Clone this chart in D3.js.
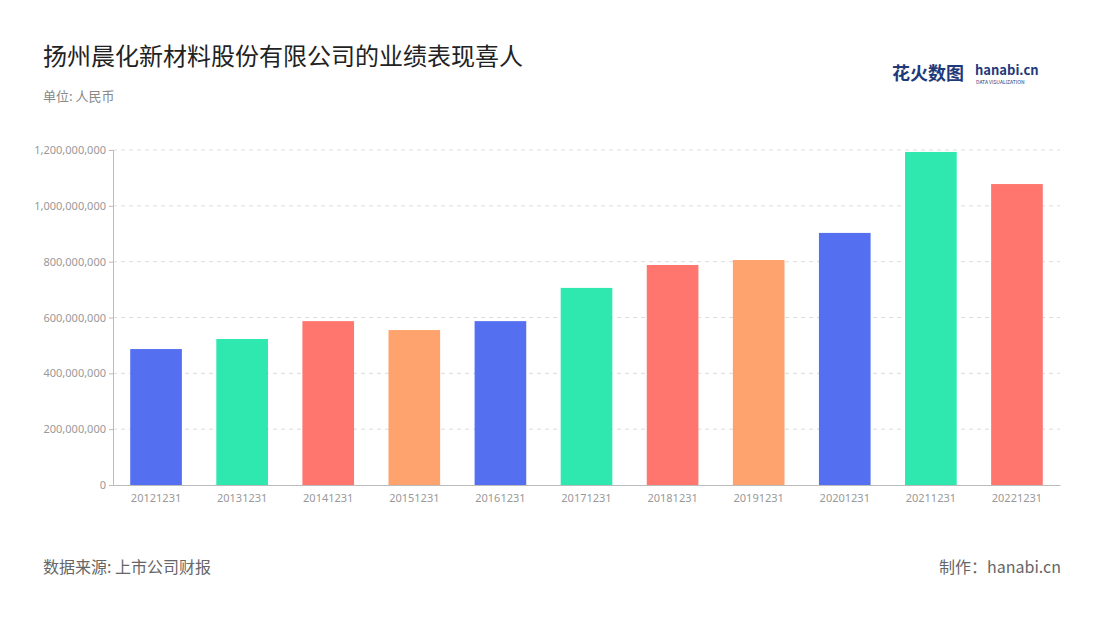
<!DOCTYPE html>
<html lang="zh">
<head>
<meta charset="utf-8">
<title>业绩</title>
<script src="https://d3js.org/d3.v7.min.js"></script>
<style>
  body { margin: 0; background: #fff; font-family: "Noto Sans CJK SC", "Noto Sans", sans-serif; }
</style>
</head>
<body>
<svg id="chart" width="1100" height="620"></svg>
<script>
var years = ["20121231","20131231","20141231","20151231","20161231","20171231","20181231","20191231","20201231","20211231","20221231"];
var values = [487000000, 523000000, 587000000, 555000000, 587000000, 706000000, 788000000, 806000000, 903000000, 1193000000, 1078000000];
var palette = ["#5470f0", "#2ee8b0", "#ff766e", "#ffa36e"];
var yTicks = [0, 200000000, 400000000, 600000000, 800000000, 1000000000, 1200000000];

var svg = d3.select("#chart");
var margin = {top: 150, left: 113, right: 1060, bottom: 485};

var x = d3.scaleBand().domain(years).range([margin.left, margin.right]).paddingInner(0.4).paddingOuter(0.2);
var y = d3.scaleLinear().domain([0, 1200000000]).range([margin.bottom, margin.top]);

// title
svg.append("text").attr("x", 43).attr("y", 65).attr("font-size", 24).attr("fill", "#222")
  .text("扬州晨化新材料股份有限公司的业绩表现喜人");
svg.append("text").attr("x", 43).attr("y", 101).attr("font-size", 13).attr("fill", "#888")
  .text("单位: 人民币");

// logo
svg.append("text").attr("x", 892).attr("y", 80).attr("font-size", 18).attr("font-weight", "bold")
  .attr("fill", "#1f3a7a").text("花火数图");
svg.append("text").attr("x", 975).attr("y", 75).attr("font-size", 13).attr("font-weight", "bold")
  .attr("fill", "#1f3a7a").text("hanabi.cn");
svg.append("text").attr("x", 976).attr("y", 84).attr("font-size", 5).attr("fill", "#1f3a7a")
  .text("DATA VISUALIZATION");

// grid
svg.append("g").selectAll("line").data(yTicks.slice(1)).enter().append("line")
  .attr("x1", margin.left).attr("x2", margin.right)
  .attr("y1", function(d) { return y(d); }).attr("y2", function(d) { return y(d); })
  .attr("stroke", "#ddd").attr("stroke-dasharray", "4,4");

// y axis
var yAxis = svg.append("g").attr("transform", "translate(" + margin.left + ",0)")
  .call(d3.axisLeft(y).tickValues(yTicks).tickSize(4).tickFormat(d3.format(",")));
yAxis.select(".domain").attr("stroke", "#bbb");
yAxis.selectAll(".tick line").attr("stroke", "#bbb");
yAxis.selectAll("text").attr("fill", "#999").attr("font-size", 11).attr("font-family", "Noto Sans");

// bars
svg.append("g").selectAll("rect").data(values).enter().append("rect")
  .attr("x", function(d, i) { return x(years[i]); })
  .attr("width", x.bandwidth())
  .attr("y", function(d) { return y(d); })
  .attr("height", function(d) { return y(0) - y(d); })
  .attr("fill", function(d, i) { return palette[i % 4]; });

// x axis
var xAxis = svg.append("g").attr("transform", "translate(0," + margin.bottom + ")")
  .call(d3.axisBottom(x).tickSize(0).tickPadding(9));
xAxis.select(".domain").attr("stroke", "#bbb");
xAxis.selectAll("text").attr("fill", "#999").attr("font-size", 11).attr("font-family", "Noto Sans");

// footer
svg.append("text").attr("x", 43).attr("y", 573).attr("font-size", 16).attr("fill", "#666")
  .text("数据来源: 上市公司财报");
svg.append("text").attr("x", 1061).attr("y", 573).attr("font-size", 16).attr("fill", "#666")
  .attr("text-anchor", "end").text("制作：hanabi.cn");
</script>
</body>
</html>
